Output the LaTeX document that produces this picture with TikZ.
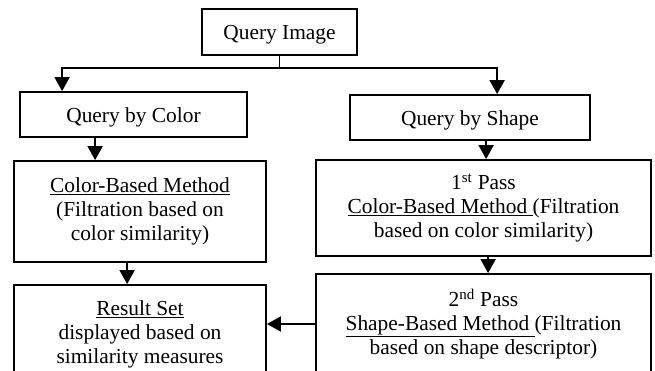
\documentclass[tikz,border=0pt]{standalone}
\usepackage{fontspec}
\setmainfont{Liberation Serif}
\usetikzlibrary{arrows.meta}
\begin{document}
\begin{tikzpicture}[x=1pt,y=-1pt,
  box/.style={draw,line width=1.8pt,inner sep=0pt,align=center,
              font=\fontsize{21.4}{24}\selectfont},
  onebox/.style={box,text height=21pt,text depth=5pt},
  arr/.style={line width=1.8pt,-{Triangle[length=14pt,width=15pt]}}]
\useasboundingbox (0,0) rectangle (655,371);
\clip (0,0) rectangle (655,371);

% boxes
\node[onebox,minimum width=155pt,minimum height=46pt] (qi) at (279.5,32) {Query Image};
\node[onebox,minimum width=227pt,minimum height=45pt] (qc) at (133.5,114.5) {Query by Color};
\node[onebox,minimum width=240pt,minimum height=45pt] (qs) at (470,117.5) {Query by Shape};
\node[box,minimum width=252pt,minimum height=101pt] (cb) at (140,211.5)
  {\underline{Color-Based Method}\\(Filtration based on\\color similarity)};
\node[box,minimum width=335pt,minimum height=96pt] (p1) at (483.5,208)
  {1\textsuperscript{st} Pass\\\underline{Color-Based Method }(Filtration\\based on color similarity)};
\node[box,minimum width=252pt,minimum height=98pt] (rs) at (140,334)
  {\underline{Result Set}\\displayed based on\\similarity measures};
\node[box,minimum width=335pt,minimum height=100pt] (p2) at (483.5,324)
  {2\textsuperscript{nd} Pass\\\underline{Shape-Based Method }(Filtration\\based on shape descriptor)};

% connectors
\draw[arr] (qi.south) -- ++(0,12) -| ([xshift=43pt]qc.north west);
\draw[arr] (qi.south) -- ++(0,12) -| ([xshift=148pt]qs.north west);
\draw[arr] ([xshift=76pt]qc.south west) -- ([xshift=76pt]qc.south west |- cb.north);
\draw[arr] ([xshift=114pt]cb.south west) -- ([xshift=114pt]cb.south west |- rs.north);
\draw[arr] ([xshift=137pt]qs.south west) -- ([xshift=137pt]qs.south west |- p1.north);
\draw[arr] ([xshift=173pt]p1.south west) -- ([xshift=173pt]p1.south west |- p2.north);
\draw[arr] (p2.west) -- (p2.west -| rs.east);
\end{tikzpicture}
\end{document}
